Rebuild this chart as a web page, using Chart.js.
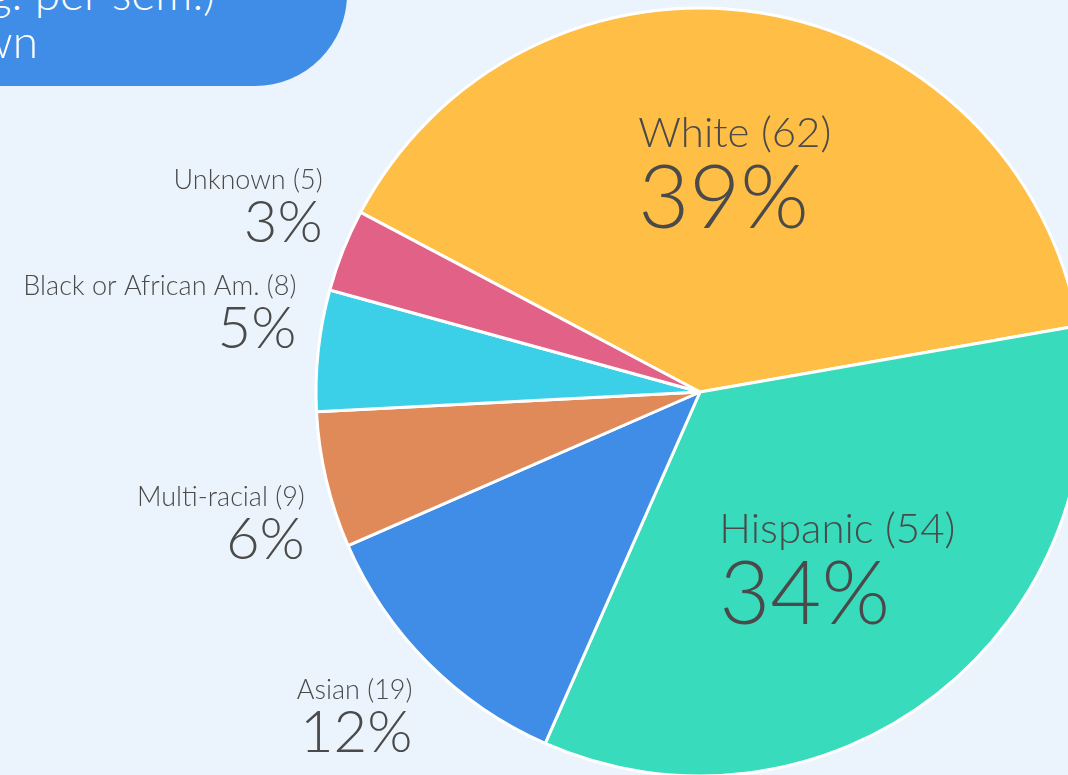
<!DOCTYPE html>
<html>
<head>
<meta charset="utf-8">
<script src="https://cdn.jsdelivr.net/npm/chart.js@4.4.1/dist/chart.umd.min.js"></script>
<style>
  html, body { margin: 0; padding: 0; background: #EBF4FC; overflow: hidden; width: 1068px; height: 775px; }
  #wrap { position: absolute; left: 0; top: 0; }
  .title-box {
    position: absolute; left: -500px; top: -120px; width: 847px; height: 206px;
    background: #3F8DE6; border-bottom-right-radius: 92px;
  }
  .title-box span {
    position: absolute; right: 0; color: #fff; font-family: Lato, sans-serif; font-weight: 300;
    font-size: 46px; white-space: nowrap; line-height: 1;
  }
</style>
</head>
<body>
<div id="wrap"><canvas id="pie" width="1400" height="784"></canvas></div>
<div class="title-box">
  <span style="top:90px; right:132px;">Enrollment (avg. per sem.)</span>
  <span style="top:138px; right:309px;">Breakdown</span>
</div>
<script>
// Race / ethnicity, average head count per semester
const categories = ['White', 'Hispanic', 'Asian', 'Multi-racial', 'Black or African Am.', 'Unknown'];
const counts = [62, 53.95, 18.6, 9, 8, 5.45];
const sliceColors = ['#FFBE45', '#38DBBB', '#3F8DE6', '#E08A5A', '#3BCFE8', '#E26187'];

const textColor = '#4A4A4A';
const fontFamily = 'Lato, sans-serif';

// Draws "Name (n)" + "xx%" for each slice; big slices inside, small ones outside
const sliceLabels = {
  id: 'sliceLabels',
  afterDatasetsDraw(chart) {
    const ctx = chart.ctx;
    const meta = chart.getDatasetMeta(0);
    const values = chart.data.datasets[0].data;
    const total = values.reduce((a, b) => a + b, 0);

    meta.data.forEach((arc, i) => {
      const { x, y, startAngle, endAngle, outerRadius } = arc.getProps(['x', 'y', 'startAngle', 'endAngle', 'outerRadius'], true);
      const mid = (startAngle + endAngle) / 2;
      const dx = Math.cos(mid), dy = Math.sin(mid);
      const pct = values[i] / total * 100;
      const inside = pct > 15;

      const nameSize = inside ? 42 : 27;
      const pctSize = inside ? 88 : 58;
      const nameText = chart.data.labels[i] + ' (' + Math.round(values[i]) + ')';
      const pctText = Math.round(pct) + '%';

      ctx.save();
      ctx.fillStyle = textColor;
      ctx.textBaseline = 'alphabetic';
      ctx.font = '300 ' + nameSize + 'px ' + fontFamily;
      const wName = ctx.measureText(nameText).width;
      ctx.font = '300 ' + pctSize + 'px ' + fontFamily;
      const wPct = ctx.measureText(pctText).width;

      const cap = nameSize * 0.76;
      const gap = pctSize * 0.92;
      const w = Math.max(wName, wPct);
      const h = cap + gap;

      let tx, nameBase;
      if (inside) {
        // block centred at 58% of the radius, lines left-aligned
        const cx = x + dx * outerRadius * 0.58;
        const cy = y + dy * outerRadius * 0.58;
        ctx.textAlign = 'left';
        tx = cx - w / 2;
        nameBase = cy - h / 2 + cap;
      } else {
        // nearest corner of the block sits just outside the rim
        const px = x + dx * (outerRadius + 22);
        const py = y + dy * (outerRadius + 22);
        ctx.textAlign = dx < 0 ? 'right' : 'left';
        tx = px;
        nameBase = dy < 0 ? py - gap : py + cap;
      }
      ctx.font = '300 ' + nameSize + 'px ' + fontFamily;
      ctx.fillText(nameText, tx, nameBase);
      ctx.font = '300 ' + pctSize + 'px ' + fontFamily;
      ctx.fillText(pctText, tx, nameBase + gap);
      ctx.restore();
    });
  }
};

const config = {
  type: 'pie',
  data: {
    labels: categories,
    datasets: [{
      data: counts,
      backgroundColor: sliceColors,
      borderColor: '#FFFFFF',
      borderWidth: 3,
      radius: 384
    }]
  },
  options: {
    responsive: false,
    animation: false,
    rotation: -62.1,
    layout: { padding: 0 },
    plugins: {
      legend: { display: false },
      tooltip: { enabled: false }
    }
  },
  plugins: [sliceLabels]
};

document.fonts.load('300 40px Lato').then(() => {
  new Chart(document.getElementById('pie'), config);
});
</script>
</body>
</html>
